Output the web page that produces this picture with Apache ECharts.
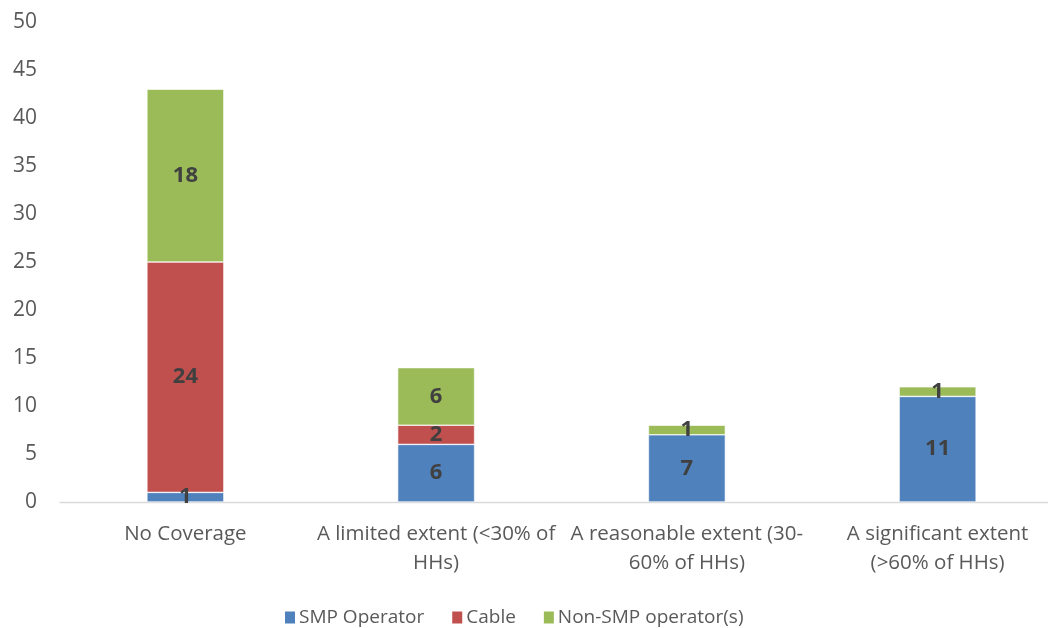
<!DOCTYPE html>
<html>
<head>
<meta charset="utf-8">
<script src="https://cdn.jsdelivr.net/npm/echarts@6/dist/echarts.min.js"></script>
<style>
  html, body { margin: 0; padding: 0; background: #fff; overflow: hidden; }
  #chart { width: 1064px; height: 628px; }
</style>
</head>
<body>
<div id="chart"></div>
<script>
// Coverage extent categories and operator counts
const categories = [
  'No Coverage',
  'A limited extent (<30% of\nHHs)',
  'A reasonable extent (30-\n60% of HHs)',
  'A significant extent\n(>60% of HHs)'
];
const smpOperator = [1, 6, 7, 11];
const cable = [24, 2, 0, 0];
const nonSmpOperator = [18, 6, 1, 1];
const yTicks = { min: 0, max: 50, interval: 5 };

const FONT = 'Open Sans';

function barSeries(name, data, color) {
  return {
    name: name,
    type: 'bar',
    stack: 'total',
    barWidth: 77,
    data: data.map(v => (v === 0 ? null : v)),
    itemStyle: { color: color, borderColor: '#ffffff', borderWidth: 0.6 },
    label: {
      show: true,
      position: 'inside',
      fontFamily: FONT,
      fontSize: 22,
      fontWeight: 'bold',
      color: '#404040'
    }
  };
}

const chart = echarts.init(document.getElementById('chart'), null, { renderer: 'canvas' });
chart.setOption({
  animation: false,
  textStyle: { fontFamily: FONT },
  grid: { left: 60, top: 22, width: 1003, height: 480, containLabel: false },
  xAxis: {
    type: 'category',
    data: categories,
    axisLine: { lineStyle: { color: '#d9d9d9', width: 1.3 } },
    axisTick: { show: false },
    axisLabel: {
      interval: 0,
      margin: 18,
      fontFamily: FONT,
      fontSize: 20.5,
      lineHeight: 29,
      color: '#595959'
    }
  },
  yAxis: {
    type: 'value',
    min: yTicks.min,
    max: yTicks.max,
    interval: yTicks.interval,
    axisLine: { show: false },
    axisTick: { show: false },
    splitLine: { show: false },
    axisLabel: { margin: 23, fontFamily: FONT, fontSize: 21, color: '#595959' }
  },
  legend: {
    top: 603,
    left: 278,
    itemWidth: 12,
    itemHeight: 14,
    itemGap: 26,
    icon: 'rect',
    textStyle: { fontFamily: FONT, fontSize: 19, color: '#595959', padding: [0, 0, 0, -2] }
  },
  series: [
    barSeries('SMP Operator', smpOperator, '#4f81bd'),
    barSeries('Cable', cable, '#c0504d'),
    barSeries('Non-SMP operator(s)', nonSmpOperator, '#9bbb59')
  ]
});
</script>
</body>
</html>
